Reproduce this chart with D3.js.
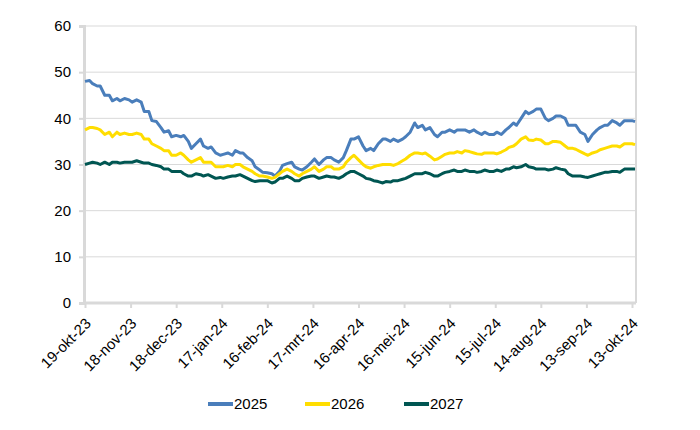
<!DOCTYPE html>
<html><head><meta charset="utf-8">
<script src="https://cdn.jsdelivr.net/npm/d3@7"></script>
<style>body{margin:0;background:#fff}svg{display:block}</style>
</head><body>
<svg id="c" width="700" height="430"></svg>
<script>
const dates = ["2023-10-19","2023-10-22","2023-10-24","2023-10-27","2023-10-29","2023-11-01","2023-11-04","2023-11-06","2023-11-09","2023-11-11","2023-11-14","2023-11-17","2023-11-19","2023-11-22","2023-11-25","2023-11-27","2023-11-30","2023-12-02","2023-12-05","2023-12-08","2023-12-10","2023-12-13","2023-12-15","2023-12-18","2023-12-21","2023-12-23","2023-12-26","2023-12-28","2023-12-31","2024-01-03","2024-01-05","2024-01-08","2024-01-10","2024-01-13","2024-01-16","2024-01-18","2024-01-21","2024-01-24","2024-01-26","2024-01-29","2024-01-31","2024-02-03","2024-02-06","2024-02-08","2024-02-11","2024-02-13","2024-02-16","2024-02-19","2024-02-21","2024-02-24","2024-02-26","2024-02-29","2024-03-03","2024-03-05","2024-03-08","2024-03-10","2024-03-13","2024-03-16","2024-03-18","2024-03-21","2024-03-24","2024-03-26","2024-03-29","2024-03-31","2024-04-03","2024-04-06","2024-04-08","2024-04-11","2024-04-13","2024-04-16","2024-04-19","2024-04-21","2024-04-24","2024-04-26","2024-04-29","2024-05-02","2024-05-04","2024-05-07","2024-05-09","2024-05-12","2024-05-15","2024-05-17","2024-05-20","2024-05-23","2024-05-25","2024-05-28","2024-05-30","2024-06-02","2024-06-05","2024-06-07","2024-06-10","2024-06-12","2024-06-15","2024-06-18","2024-06-20","2024-06-23","2024-06-25","2024-06-28","2024-07-01","2024-07-03","2024-07-06","2024-07-08","2024-07-11","2024-07-14","2024-07-16","2024-07-19","2024-07-22","2024-07-24","2024-07-27","2024-07-29","2024-08-01","2024-08-04","2024-08-06","2024-08-09","2024-08-11","2024-08-14","2024-08-17","2024-08-19","2024-08-22","2024-08-24","2024-08-27","2024-08-30","2024-09-01","2024-09-04","2024-09-06","2024-09-09","2024-09-12","2024-09-14","2024-09-17","2024-09-20","2024-09-22","2024-09-25","2024-09-27","2024-09-30","2024-10-03","2024-10-05","2024-10-08","2024-10-10","2024-10-13","2024-10-15"];

const s2025 = [48,48.2,47.5,47,47,45,45,43.8,44.3,43.8,44.3,44,43.5,44,43.5,41.5,41.5,39.5,39.3,38,37,37.3,36,36.3,36,36.3,35,33.5,34.5,35.5,34,33.5,33.8,32.5,32,32.2,32.5,32,33,32.5,32.5,31.5,30.8,29.5,28.8,28.3,28.2,28,27.5,28.5,29.8,30.2,30.5,29.5,29,28.8,29.5,30.5,31.2,30,31,31.5,31.5,31,30.5,31.5,33,35.5,35.5,36,34,33,33.5,33,34.5,35.5,35.5,35,35.5,35,35.5,36,37,39,38,38.5,37.5,38,36.5,36,37,37,37.5,37,37.5,37.5,37.5,37,37.5,37,36.5,37,36.5,36.5,37,36.5,37.5,38,39,38.5,40,41.5,41,41.5,42,42,40,39.5,40,40.5,40.5,40,38.5,38.5,38.5,37,36.5,35,36.5,37.5,38,38.5,38.5,39.5,39,38.5,39.5,39.5,39.5,39.3];

const s2026 = [37.5,38,38,37.8,37.5,36.5,37,36,37,36.5,36.8,36.5,36.5,36.8,36.5,35.5,35.5,34.5,34,33.5,33,33,32,32,32.5,32,31,30.5,31,31.5,30.5,30.5,30.5,29.5,29.5,29.5,29.8,29.5,30,30,29.5,29,28.5,28,27.5,27.5,27.3,27,27.2,28,28.5,29,28.5,28,27.5,28,28.5,29,29.5,28.5,29,29.5,29.5,29,29,29.5,30.5,31.5,32,31,30,29.5,29.2,29.5,29.8,30,30,30,29.8,30.2,30.8,31.2,32,32.5,32.5,32.3,32.5,31.8,31,31.2,31.8,32.2,32.5,32.5,32.8,32.5,33,32.8,32.5,32.3,32.2,32.5,32.5,32.5,32.3,32.7,33.2,33.7,34,34.5,35.5,36,35.3,35.2,35.5,35.3,34.5,34.5,35,35,34.8,34,33.5,33.5,33.3,32.8,32.3,32,32.5,32.8,33.2,33.5,33.7,34,34,33.8,34.5,34.5,34.5,34.3];

const s2027 = [30,30.3,30.5,30.3,30,30.5,30,30.5,30.5,30.3,30.5,30.5,30.5,30.8,30.5,30.3,30.3,30,29.8,29.5,29,29,28.5,28.5,28.5,28,27.5,27.5,28,27.8,27.5,27.8,27.5,27,27.2,27,27.3,27.5,27.5,27.8,27.5,27,26.5,26.3,26.5,26.5,26.5,26,26.2,27,27,27.5,27,26.5,26.5,27,27.3,27.5,27.5,27,27.3,27.5,27.3,27.3,27,27.5,28,28.5,28.5,28,27.5,27,26.8,26.5,26.3,26,26.3,26.2,26.5,26.5,26.8,27,27.5,28,28,28,28.3,28,27.5,27.5,28,28.3,28.5,28.8,28.5,28.5,28.8,28.5,28.5,28.3,28.5,28.8,28.5,28.5,28.8,28.5,29,29,29.5,29.3,29.5,30,29.5,29.3,29,29,29,28.8,29,29.3,29,28.8,28,27.5,27.5,27.5,27.3,27.2,27.5,27.8,28,28.3,28.3,28.5,28.5,28.3,29,29,29,29];

const seriesNames = ["2025","2026","2027"];
const seriesColors = ["#4a7ebb","#ffdd00","#005652"];
const yTicks = [0,10,20,30,40,50,60];
const xTickDates = ["2023-10-19","2023-11-18","2023-12-18","2024-01-17","2024-02-16","2024-03-17","2024-04-16","2024-05-16","2024-06-15","2024-07-15","2024-08-14","2024-09-13","2024-10-13"];
const monthNames = ["jan","feb","mrt","apr","mei","jun","jul","aug","sep","okt","nov","dec"];

const parse = d3.timeParse("%Y-%m-%d");
const svg = d3.select("#c");
const L = 84, R = 636, T = 26, B = 303;
const font = "'Liberation Sans', Arial, sans-serif";

const x = d3.scaleTime().domain([parse("2023-10-19"), parse("2024-10-13")]).range([L + 1, 632]);
const y = d3.scaleLinear().domain([0, 60]).range([B, T]);

// gridlines
svg.append("g").selectAll("line").data(yTicks.filter(v => v > 0)).join("line")
  .attr("x1", L).attr("x2", R).attr("y1", d => y(d)).attr("y2", d => y(d))
  .attr("stroke", "#d9d9d9").attr("stroke-width", 1);
// right border
svg.append("line").attr("x1", R).attr("x2", R).attr("y1", T).attr("y2", B)
  .attr("stroke", "#d9d9d9").attr("stroke-width", 2);

// y axis
const yAxis = svg.append("g").attr("transform", `translate(${L},0)`)
  .call(d3.axisLeft(y).tickValues(yTicks).tickSize(5).tickPadding(8));
yAxis.select(".domain").attr("stroke", "#d9d9d9").attr("stroke-width", 3);
yAxis.selectAll(".tick line").attr("stroke", "#d9d9d9").attr("stroke-width", 2);
yAxis.selectAll("text").attr("font-family", font).attr("font-size", 15).attr("fill", "#000");

// x axis
const fmt = d => `${d.getDate()}-${monthNames[d.getMonth()]}-${String(d.getFullYear()).slice(2)}`;
const xAxis = svg.append("g").attr("transform", `translate(0,${B})`)
  .call(d3.axisBottom(x).tickValues(xTickDates.map(parse)).tickFormat(fmt).tickSize(5).tickSizeOuter(0));
xAxis.select(".domain").attr("stroke", "#d9d9d9").attr("stroke-width", 3)
  .attr("d", `M${L},0H${R}`);
xAxis.selectAll(".tick line").attr("stroke", "#d9d9d9").attr("stroke-width", 2);
xAxis.selectAll("text").attr("font-family", font).attr("font-size", 15).attr("fill", "#000")
  .attr("text-anchor", "end").attr("dy", "0.35em")
  .attr("transform", "translate(-3,12) rotate(-45)");

// lines
const allSeries = [s2025, s2026, s2027];
const line = d3.line().x((d, i) => x(parse(dates[i]))).y(d => y(d));
allSeries.forEach((s, k) => {
  svg.append("path").datum(s).attr("d", line)
    .attr("fill", "none").attr("stroke", seriesColors[k]).attr("stroke-width", 3)
    .attr("stroke-linejoin", "round");
});

// legend
const legX = [208, 305, 404];
const lg = svg.append("g");
seriesNames.forEach((n, k) => {
  lg.append("line").attr("x1", legX[k]).attr("x2", legX[k] + 25).attr("y1", 404).attr("y2", 404)
    .attr("stroke", seriesColors[k]).attr("stroke-width", 4);
  lg.append("text").attr("x", legX[k] + 26).attr("y", 404).attr("dy", "0.35em")
    .attr("font-family", font).attr("font-size", 15).attr("fill", "#000").text(n);
});
</script>
</body></html>
